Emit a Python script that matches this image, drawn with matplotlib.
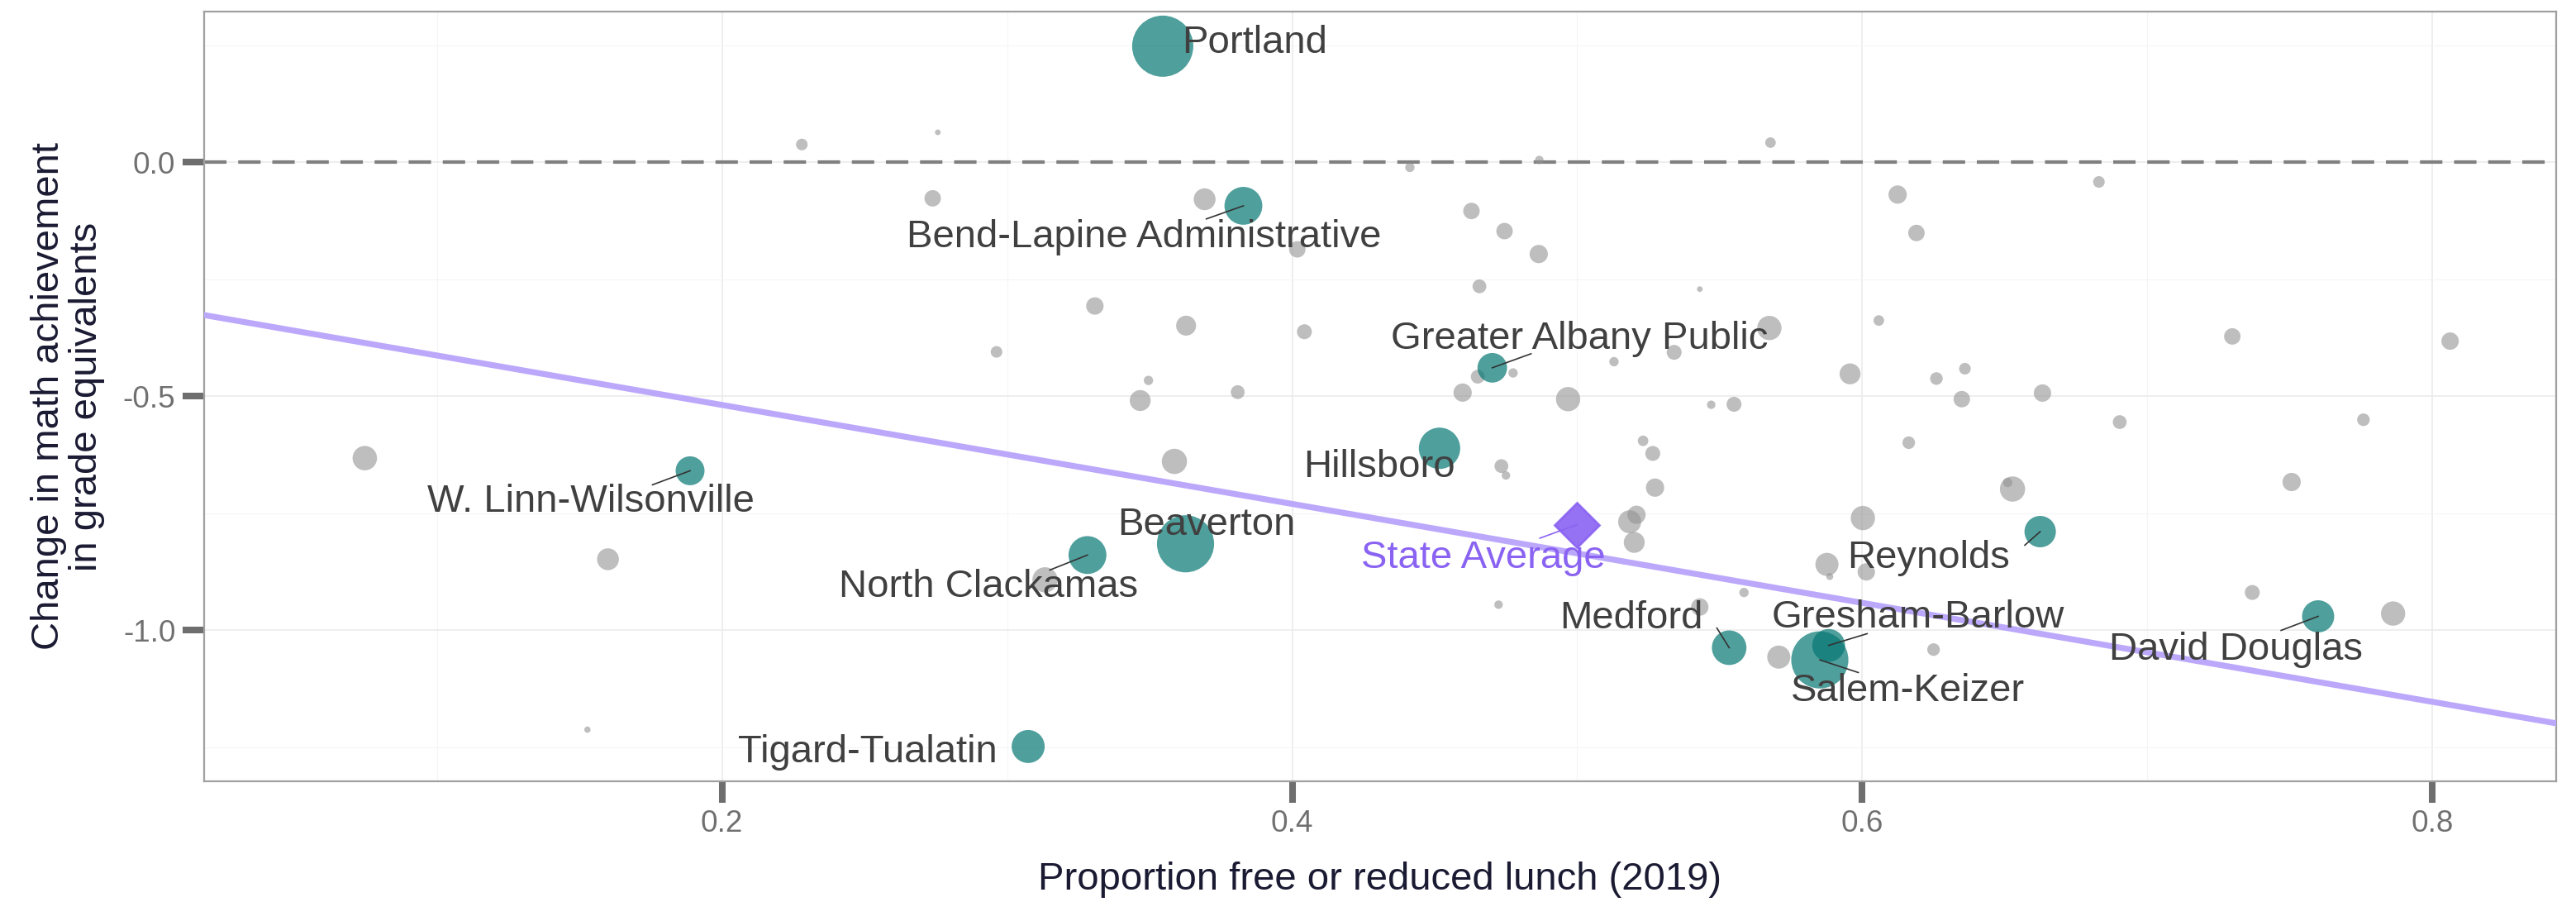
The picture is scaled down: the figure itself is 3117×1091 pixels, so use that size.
import matplotlib.pyplot as plt

plt.rcParams["font.family"] = ["Liberation Sans", "DejaVu Sans"]

# other districts (gray): x = proportion FRL, y = change, enrollment in thousands
gray_x = [0.0747, 0.160, 0.1528, 0.228,
          0.2757, 0.2739, 0.3693, 0.4018, 0.4413, 0.4867, 0.4629, 0.4745, 0.4865,
          0.4657, 0.543, 0.3308, 0.3628, 0.4043, 0.2963, 0.4651, 0.4775, 0.5129,
          0.534, 0.3496, 0.3467, 0.3809, 0.4598, 0.4968, 0.547, 0.3587, 0.4734,
          0.475, 0.5231, 0.5265, 0.5273, 0.5184, 0.5208, 0.520, 0.3133, 0.4724,
          0.543,
          0.5678, 0.683, 0.6124, 0.619, 0.5674, 0.6058, 0.7298, 0.8062, 0.5957,
          0.626, 0.636, 0.6349, 0.6632, 0.555, 0.6903, 0.7758, 0.6163, 0.6527,
          0.651, 0.7506, 0.6002, 0.5876, 0.5886, 0.6014, 0.5585, 0.7368, 0.7862,
          0.5707, 0.625]
gray_y = [-0.632, -0.848, -1.212, 0.038,
          0.064, -0.077, -0.079, -0.186, -0.011, 0.005, -0.104, -0.147, -0.196,
          -0.265, -0.271, -0.307, -0.349, -0.362, -0.405, -0.458, -0.450, -0.426,
          -0.406, -0.466, -0.509, -0.491, -0.492, -0.506, -0.518, -0.639, -0.649,
          -0.669, -0.595, -0.622, -0.695, -0.768, -0.753, -0.812, -0.892, -0.945,
          -0.950,
          0.042, -0.042, -0.069, -0.151, -0.354, -0.338, -0.372, -0.382, -0.452,
          -0.462, -0.441, -0.506, -0.493, -0.517, -0.555, -0.550, -0.599, -0.698,
          -0.684, -0.683, -0.760, -0.859, -0.885, -0.875, -0.919, -0.919, -0.964,
          -1.057, -1.041]
gray_enroll = [7.5, 6.0, 0.5, 1.7,
               0.4, 3.4, 6.0, 3.4, 1.1, 0.9, 3.4, 3.4, 4.2,
               2.4, 0.4, 3.8, 5.0, 2.8, 1.7, 2.4, 1.1, 1.1,
               2.8, 1.1, 5.5, 2.4, 4.2, 7.4, 0.9, 8.0, 2.4,
               0.9, 1.4, 2.8, 4.2, 6.7, 4.2, 5.5, 8.0, 0.9,
               3.8,
               1.4, 1.7, 4.2, 3.4, 7.4, 1.4, 3.4, 3.8, 5.5,
               2.0, 1.7, 3.4, 3.8, 2.8, 2.4, 2.0, 2.0, 8.0,
               1.1, 4.2, 7.4, 6.7, 0.6, 3.8, 1.1, 2.8, 7.4,
               6.7, 2.0]

# largest districts (teal, labelled)
names = ["Portland", "Salem-Keizer", "Beaverton", "Hillsboro", "Bend-Lapine Administrative",
         "North Clackamas", "Medford", "Gresham-Barlow", "Tigard-Tualatin", "Reynolds",
         "Greater Albany Public", "W. Linn-Wilsonville", "David Douglas"]
dist_x = [0.3546, 0.5851, 0.3626, 0.4517, 0.3829, 0.3282, 0.5533, 0.5882, 0.3074,
          0.6624, 0.4702, 0.1888, 0.7599]
dist_y = [0.248, -1.063, -0.815, -0.611, -0.093, -0.839, -1.037, -1.032, -1.248,
          -0.789, -0.439, -0.659, -0.970]
dist_enroll = [47, 41, 41, 21.5, 18, 18, 15, 13.5, 13.7, 12.4, 11, 10.5, 13]

state_x = 0.5
state_y = -0.774

# fitted line
fit_intercept = -0.307
fit_slope = -1.057

# label placement (center of text) and leader-line end, by name
label_pos = {
    "Portland": (0.3868, 0.254, None),
    "Bend-Lapine Administrative": (0.3481, -0.161, (0.3699, -0.121)),
    "Greater Albany Public": (0.5009, -0.378, (0.4838, -0.409)),
    "Hillsboro": (0.4307, -0.651, None),
    "W. Linn-Wilsonville": (0.154, -0.725, (0.1756, -0.689)),
    "Beaverton": (0.3699, -0.7745, None),
    "North Clackamas": (0.2936, -0.907, (0.315, -0.871)),
    "Medford": (0.519, -0.975, (0.549, -0.995)),
    "Reynolds": (0.6233, -0.845, (0.657, -0.818)),
    "Gresham-Barlow": (0.6194, -0.973, (0.6017, -1.007)),
    "David Douglas": (0.7312, -1.041, (0.7469, -1.000)),
    "Salem-Keizer": (0.6161, -1.130, (0.5986, -1.090)),
    "Tigard-Tualatin": (0.251, -1.26, None),
}
state_label = (0.4671, -0.845, (0.4869, -0.803))

size_k = 15.1
purple = "#8a63f2"

fig = plt.figure(figsize=(15.585, 5.455), dpi=200)
ax = fig.add_axes([0.0792, 0.134, 0.9131, 0.8532])

ax.set_xlim(0.0183, 0.8434)
ax.set_ylim(-1.322, 0.322)

ax.set_xticks([0.2, 0.4, 0.6, 0.8])
ax.set_xticks([0.1, 0.3, 0.5, 0.7], minor=True)
ax.set_yticks([0.0, -0.5, -1.0])
ax.set_yticks([0.25, -0.25, -0.75, -1.25], minor=True)
ax.set_xticklabels(["0.2", "0.4", "0.6", "0.8"])
ax.set_yticklabels(["0.0", "-0.5", "-1.0"])
ax.grid(True, which="major", color="#ebebeb", linewidth=0.6, zorder=0)
ax.grid(True, which="minor", color="#f5f5f5", linewidth=0.4, zorder=0)
ax.set_axisbelow(True)
ax.tick_params(which="major", length=9.4, width=2.9, color="#6e6e6e",
               labelsize=13.3, labelcolor="#707070", pad=3)
ax.tick_params(which="minor", length=0)
for sp in ax.spines.values():
    sp.set_color("#a0a0a0")
    sp.set_linewidth(0.8)

ax.axhline(0, color="#808080", linestyle=(0, (6.5, 3.4)), linewidth=1.5, zorder=1)

ax.scatter(gray_x, gray_y, s=[e * size_k for e in gray_enroll], color="#939393",
           alpha=0.6, linewidths=0, zorder=2)

ax.axline((0, fit_intercept), slope=fit_slope, color="#bca8fb", linewidth=2.6, zorder=3)

ax.scatter(dist_x, dist_y, s=[e * size_k for e in dist_enroll], color="#057773",
           alpha=0.7, linewidths=0, zorder=4)

ax.plot([state_x], [state_y], marker="D", markersize=14, color=purple, alpha=0.9,
        linestyle="none", zorder=5)

for n, px, py in zip(names, dist_x, dist_y):
    lx, ly, end = label_pos[n]
    if end is not None:
        ax.plot([px, end[0]], [py, end[1]], color="#333333", linewidth=0.6, zorder=6)
    ax.text(lx, ly, n, ha="center", va="center", fontsize=17, color="#404040", zorder=7)

lx, ly, end = state_label
ax.plot([state_x, end[0]], [state_y, end[1]], color=purple, linewidth=0.6, zorder=6)
ax.text(lx, ly, "State Average", ha="center", va="center", fontsize=17, color=purple, zorder=7)

ax.set_xlabel("Proportion free or reduced lunch (2019)", fontsize=17, color="#1a1a33", labelpad=10)
ax.set_ylabel("Change in math achievement\nin grade equivalents", fontsize=17,
              color="#1a1a33", labelpad=8, linespacing=1.05)

fig.savefig("out.png", dpi=200, facecolor="white")
plt.close()
